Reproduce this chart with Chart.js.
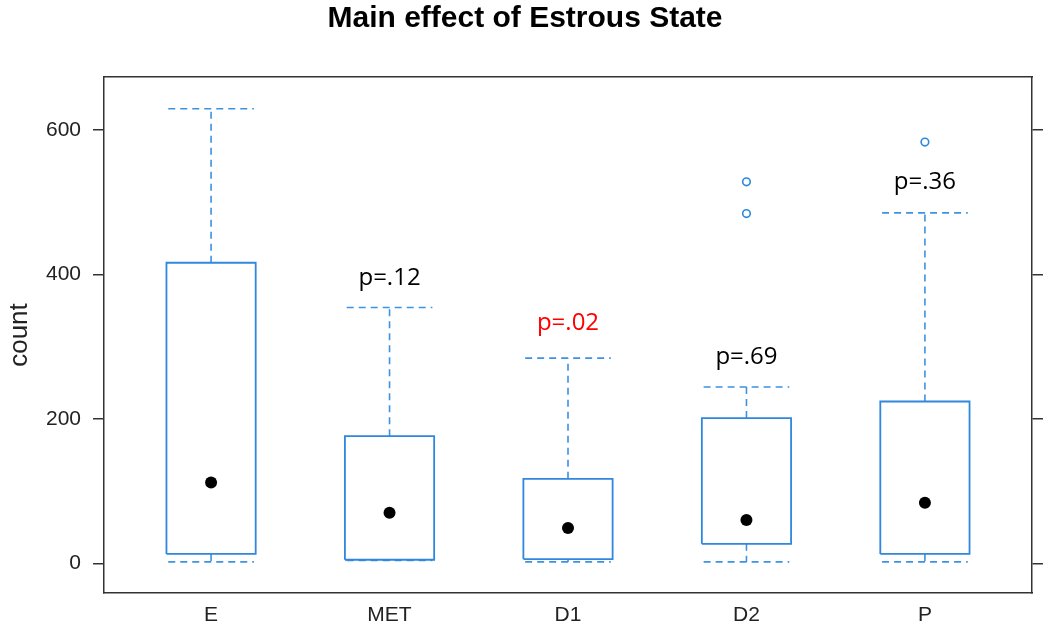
<!DOCTYPE html>
<html>
<head>
<meta charset="utf-8">
<script src="https://cdn.jsdelivr.net/npm/chart.js@4"></script>
<style>
  html, body { margin: 0; padding: 0; background: #fff; }
  #wrap { width: 1050px; height: 630px; }
</style>
</head>
<body>
<div id="wrap"><canvas id="chart" width="1050" height="630"></canvas></div>
<script>
// values
var categories = ['E', 'MET', 'D1', 'D2', 'P'];
var lowerWhisker = [2, 4, 2, 2, 2];
var lowerQuartile = [13, 5, 6, 27, 13];
var medians = [112, 70, 49, 60, 84];
var upperQuartile = [416, 176, 117, 201, 224];
var upperWhisker = [629, 354, 284, 244, 485];
var outliers = [[], [], [], [484, 528], [583]];
var pLabels = ['', 'p=.12', 'p=.02', 'p=.69', 'p=.36'];
var pLabelAt = [null, 394, 332, 285, 527];
var pLabelColors = ['#000', '#000', '#ff0000', '#000', '#000'];
var yTicks = [0, 200, 400, 600];

var BOX_HALF = 0.25;
var CAP_HALF = 0.24;
var BLUE = '#2f87de';
var DASH_BLUE = '#3d92e2';
var AXIS = '#333333';

function boxPoints() {
  var pts = [];
  for (var i = 0; i < categories.length; i++) {
    var x = i + 1;
    pts.push({ x: x - BOX_HALF, y: lowerQuartile[i] });
    pts.push({ x: x + BOX_HALF, y: lowerQuartile[i] });
    pts.push({ x: x + BOX_HALF, y: upperQuartile[i] });
    pts.push({ x: x - BOX_HALF, y: upperQuartile[i] });
    pts.push({ x: x - BOX_HALF, y: lowerQuartile[i] });
    pts.push({ x: x, y: null });
  }
  return pts;
}

function whiskerPoints() {
  var pts = [];
  for (var i = 0; i < categories.length; i++) {
    var x = i + 1;
    pts.push({ x: x, y: upperQuartile[i] }, { x: x, y: upperWhisker[i] }, { x: x, y: null });
    pts.push({ x: x - CAP_HALF, y: upperWhisker[i] }, { x: x + CAP_HALF, y: upperWhisker[i] }, { x: x, y: null });
    pts.push({ x: x, y: lowerQuartile[i] }, { x: x, y: lowerWhisker[i] }, { x: x, y: null });
    pts.push({ x: x - CAP_HALF, y: lowerWhisker[i] }, { x: x + CAP_HALF, y: lowerWhisker[i] }, { x: x, y: null });
  }
  return pts;
}

var medianPoints = medians.map(function (v, i) { return { x: i + 1, y: v }; });
var outlierPoints = [];
outliers.forEach(function (list, i) {
  list.forEach(function (v) { outlierPoints.push({ x: i + 1, y: v }); });
});

var pLabelPlugin = {
  id: 'pLabels',
  afterDatasetsDraw: function (chart) {
    var ctx = chart.ctx;
    var xs = chart.scales.x, ys = chart.scales.y;
    ctx.save();
    ctx.font = '24px "Open Sans"';
    ctx.textAlign = 'center';
    ctx.textBaseline = 'middle';
    for (var i = 0; i < pLabels.length; i++) {
      if (!pLabels[i]) continue;
      ctx.fillStyle = pLabelColors[i];
      ctx.fillText(pLabels[i], xs.getPixelForValue(i + 1), ys.getPixelForValue(pLabelAt[i]));
    }
    ctx.restore();
  }
};

function fixedTicks(values) {
  return function (scale) {
    scale.ticks = values.map(function (v) { return { value: v }; });
  };
}

new Chart(document.getElementById('chart'), {
  type: 'line',
  data: {
    datasets: [
      {
        label: 'median',
        type: 'scatter',
        data: medianPoints,
        pointRadius: 6,
        pointBackgroundColor: '#000',
        pointBorderColor: '#000',
        pointBorderWidth: 0,
        showLine: false
      },
      {
        label: 'outliers',
        type: 'scatter',
        data: outlierPoints,
        pointStyle: 'circle',
        pointRadius: 3.8,
        pointBackgroundColor: '#fff',
        pointBorderColor: BLUE,
        pointBorderWidth: 1.6,
        showLine: false
      },
      {
        label: 'boxes',
        data: boxPoints(),
        borderColor: BLUE,
        borderWidth: 1.8,
        pointRadius: 0,
        tension: 0,
        fill: false,
        spanGaps: false
      },
      {
        label: 'whiskers',
        data: whiskerPoints(),
        borderColor: DASH_BLUE,
        borderWidth: 1.6,
        borderDash: [7, 5],
        pointRadius: 0,
        tension: 0,
        fill: false,
        spanGaps: false
      }
    ]
  },
  options: {
    responsive: false,
    animation: false,
    devicePixelRatio: 1,
    layout: { padding: 0 },
    plugins: {
      legend: { display: false },
      tooltip: { enabled: false },
      title: {
        display: true,
        text: 'Main effect of Estrous State',
        color: '#000',
        font: { family: '"Liberation Sans", Arial, sans-serif', size: 30, weight: 'bold' },
        padding: { top: 1, bottom: 40 }
      }
    },
    scales: {
      x: {
        type: 'linear',
        position: 'bottom',
        min: 0.4,
        max: 5.6,
        afterBuildTicks: fixedTicks([1, 2, 3, 4, 5]),
        afterFit: function (s) { s.height = 37; },
        grid: { display: true, drawOnChartArea: false, drawTicks: false },
        border: { display: true, color: AXIS, width: 1.5 },
        ticks: {
          padding: 10,
          color: '#222',
          font: { family: '"Liberation Sans", Arial, sans-serif', size: 21 },
          callback: function (v) { return categories[v - 1]; }
        }
      },
      x2: {
        type: 'linear',
        position: 'top',
        min: 0.4,
        max: 5.6,
        afterFit: function (s) { s.height = 0; },
        grid: { display: false, drawTicks: false },
        border: { display: true, color: AXIS, width: 1.5 },
        ticks: { display: false }
      },
      y: {
        type: 'linear',
        position: 'left',
        min: -41,
        max: 673,
        afterBuildTicks: fixedTicks(yTicks),
        afterFit: function (s) { s.width = 104; },
        grid: { display: true, drawOnChartArea: false, drawTicks: true, tickLength: 11, color: AXIS, lineWidth: 1.5 },
        border: { display: true, color: AXIS, width: 1.5 },
        ticks: {
          padding: 12,
          color: '#222',
          font: { family: '"Liberation Sans", Arial, sans-serif', size: 21 }
        },
        title: {
          display: true,
          text: 'count',
          color: '#222',
          font: { family: '"Liberation Sans", Arial, sans-serif', size: 26 },
          padding: { top: 4, bottom: 0 }
        }
      },
      y2: {
        type: 'linear',
        position: 'right',
        min: -41,
        max: 673,
        afterBuildTicks: fixedTicks(yTicks),
        afterFit: function (s) { s.width = 18; },
        grid: { display: true, drawOnChartArea: false, drawTicks: true, tickLength: 11, color: AXIS, lineWidth: 1.5 },
        border: { display: true, color: AXIS, width: 1.5 },
        ticks: { display: false }
      }
    }
  },
  plugins: [pLabelPlugin]
});
</script>
</body>
</html>
